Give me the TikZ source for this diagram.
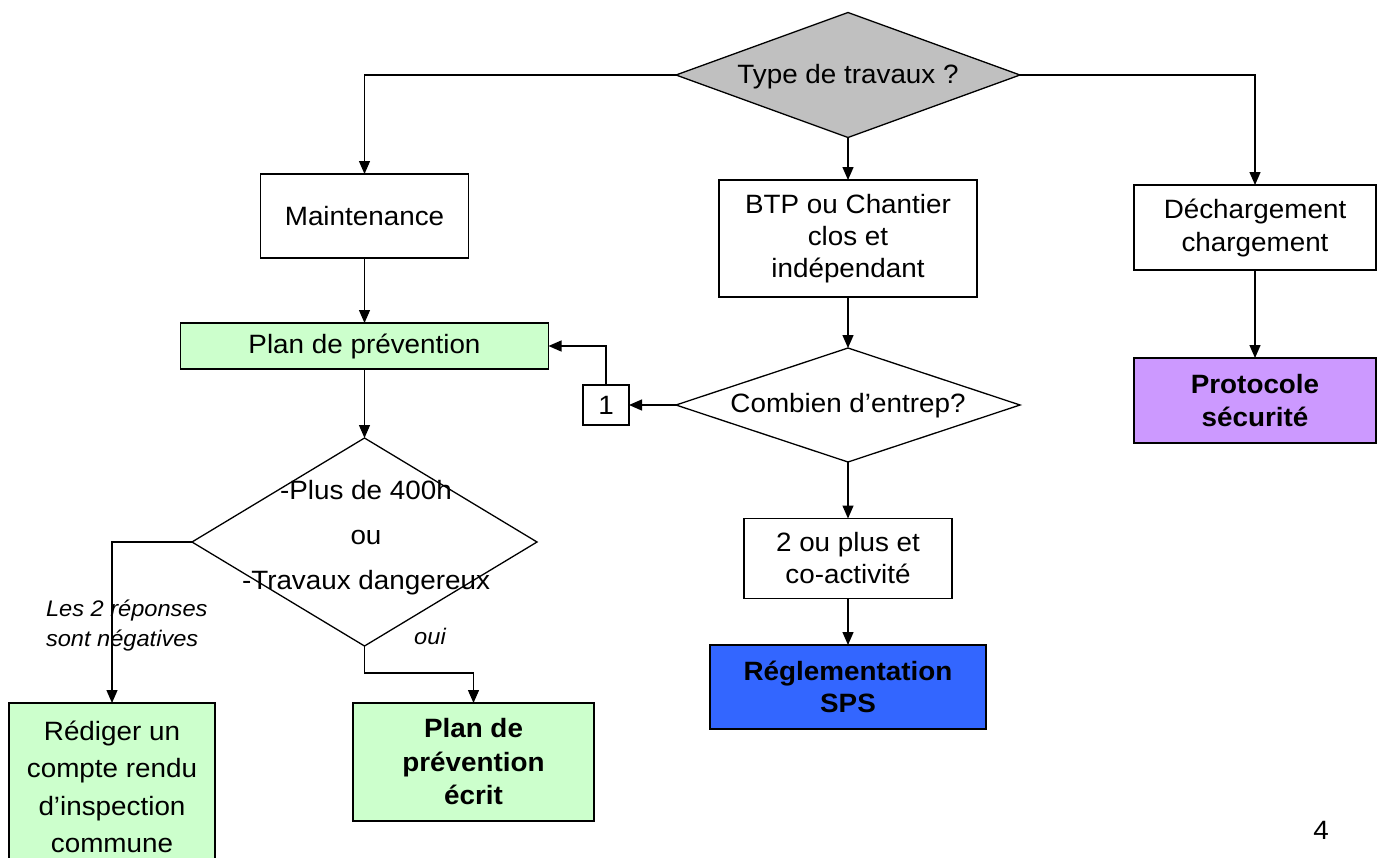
\documentclass[tikz,border=0pt]{standalone}
\usepackage{fontspec}
\setmainfont[FakeStretch=1.05]{Liberation Sans}
\usetikzlibrary{shapes.geometric,arrows.meta}
\definecolor{grayfill}{HTML}{C0C0C0}
\definecolor{greenfill}{HTML}{CCFFCC}
\definecolor{purplefill}{HTML}{CC99FF}
\definecolor{bluefill}{HTML}{3366FF}
\begin{document}
\begin{tikzpicture}[x=1pt,y=-1pt,
  every node/.style={font=\fontsize{26.5}{32}\selectfont, inner sep=0pt, outer sep=0pt},
  box/.style={draw, rectangle, line width=1.3pt, align=center},
  dia/.style={draw, diamond, line width=1.3pt},
  txt/.style={align=center},
  conn/.style={line width=1.3pt, -{Triangle[length=13pt,width=11pt]}},
  lab/.style={font=\fontsize{22.5}{30}\selectfont\itshape, align=left}]
\useasboundingbox (0,0) rectangle (1383,857);
\fill[white] (0,0) rectangle (1383,857);

% shapes
\node[dia, fill=grayfill, minimum width=344pt, minimum height=125pt] (top) at (848,75) {};
\node[txt] (toptxt) at (848,77) {Type de travaux ?};

\node[box, minimum width=208pt, minimum height=84pt] (maint) at (364.5,216) {Maintenance};
\node[box, minimum width=258pt, minimum height=117pt] (btp) at (848,238.5) {BTP ou Chantier\\clos et\\indépendant};
\node[box, minimum width=242pt, minimum height=85pt, font=\fontsize{26.5}{33}\selectfont] (dech) at (1255,227.5) {Déchargement\\chargement};
\node[box, fill=purplefill, minimum width=242pt, minimum height=85pt, font=\fontsize{26.5}{33}\selectfont\bfseries] (proto) at (1255,400.5) {Protocole\\sécurité};

\node[box, fill=greenfill, minimum width=368pt, minimum height=46pt] (plan) at (364.5,346) {Plan de prévention};
\node[box, minimum width=46pt, minimum height=40pt] (one) at (606,405) {1};
\node[dia, minimum width=344pt, minimum height=114pt] (comb) at (848,405) {};
\node[txt] (combtxt) at (848,406) {Combien d’entrep?};

\node[box, minimum width=208pt, minimum height=80pt] (deux) at (848,558.5) {2 ou plus et \\co-activité};
\node[box, fill=bluefill, minimum width=276pt, minimum height=84pt, font=\fontsize{26.5}{32}\selectfont\bfseries] (regl) at (848,687) {Réglementation\\SPS};

\node[dia, minimum width=345pt, minimum height=208pt] (big) at (364.5,542) {};
\node[txt, font=\fontsize{26.5}{45}\selectfont] (bigtxt) at (366,538) {-Plus de 400h\\ou\\-Travaux dangereux};

\node[box, fill=greenfill, minimum width=206pt, minimum height=180pt] (red) at (112,793) {};
\node[txt, font=\fontsize{26.5}{37.5}\selectfont] (redtxt) at (112,787) {Rédiger un\\compte rendu\\d’inspection\\commune};
\node[box, fill=greenfill, minimum width=241pt, minimum height=118pt, font=\fontsize{26.5}{33.5}\selectfont\bfseries] (ecrit) at (473.5,762) {Plan de\\prévention\\écrit};

% labels
\node[lab, anchor=north west] (neg) at (46,600) {Les 2 réponses\\sont négatives};
\node[lab] (oui) at (430,636) {oui};
\node (page) at (1321,830) {4};

% connectors
\draw[conn] (top.west) -| (maint.north);
\draw[conn] (top.east) -| (dech.north);
\draw[conn] (top.south) -- (btp.north);
\draw[conn] (maint.south) -- (plan.north);
\draw[conn] (btp.south) -- (comb.north);
\draw[conn] (comb.west) -- (one.east);
\draw[conn] (one.north) |- (plan.east);
\draw[conn] (comb.south) -- (deux.north);
\draw[conn] (deux.south) -- (regl.north);
\draw[conn] (dech.south) -- (proto.north);
\draw[conn] (plan.south) -- (big.north);
\draw[conn] (big.west) -| (red.north);
\draw[conn] (big.south) -- ++(0,27) -| (ecrit.north);
\end{tikzpicture}
\end{document}
